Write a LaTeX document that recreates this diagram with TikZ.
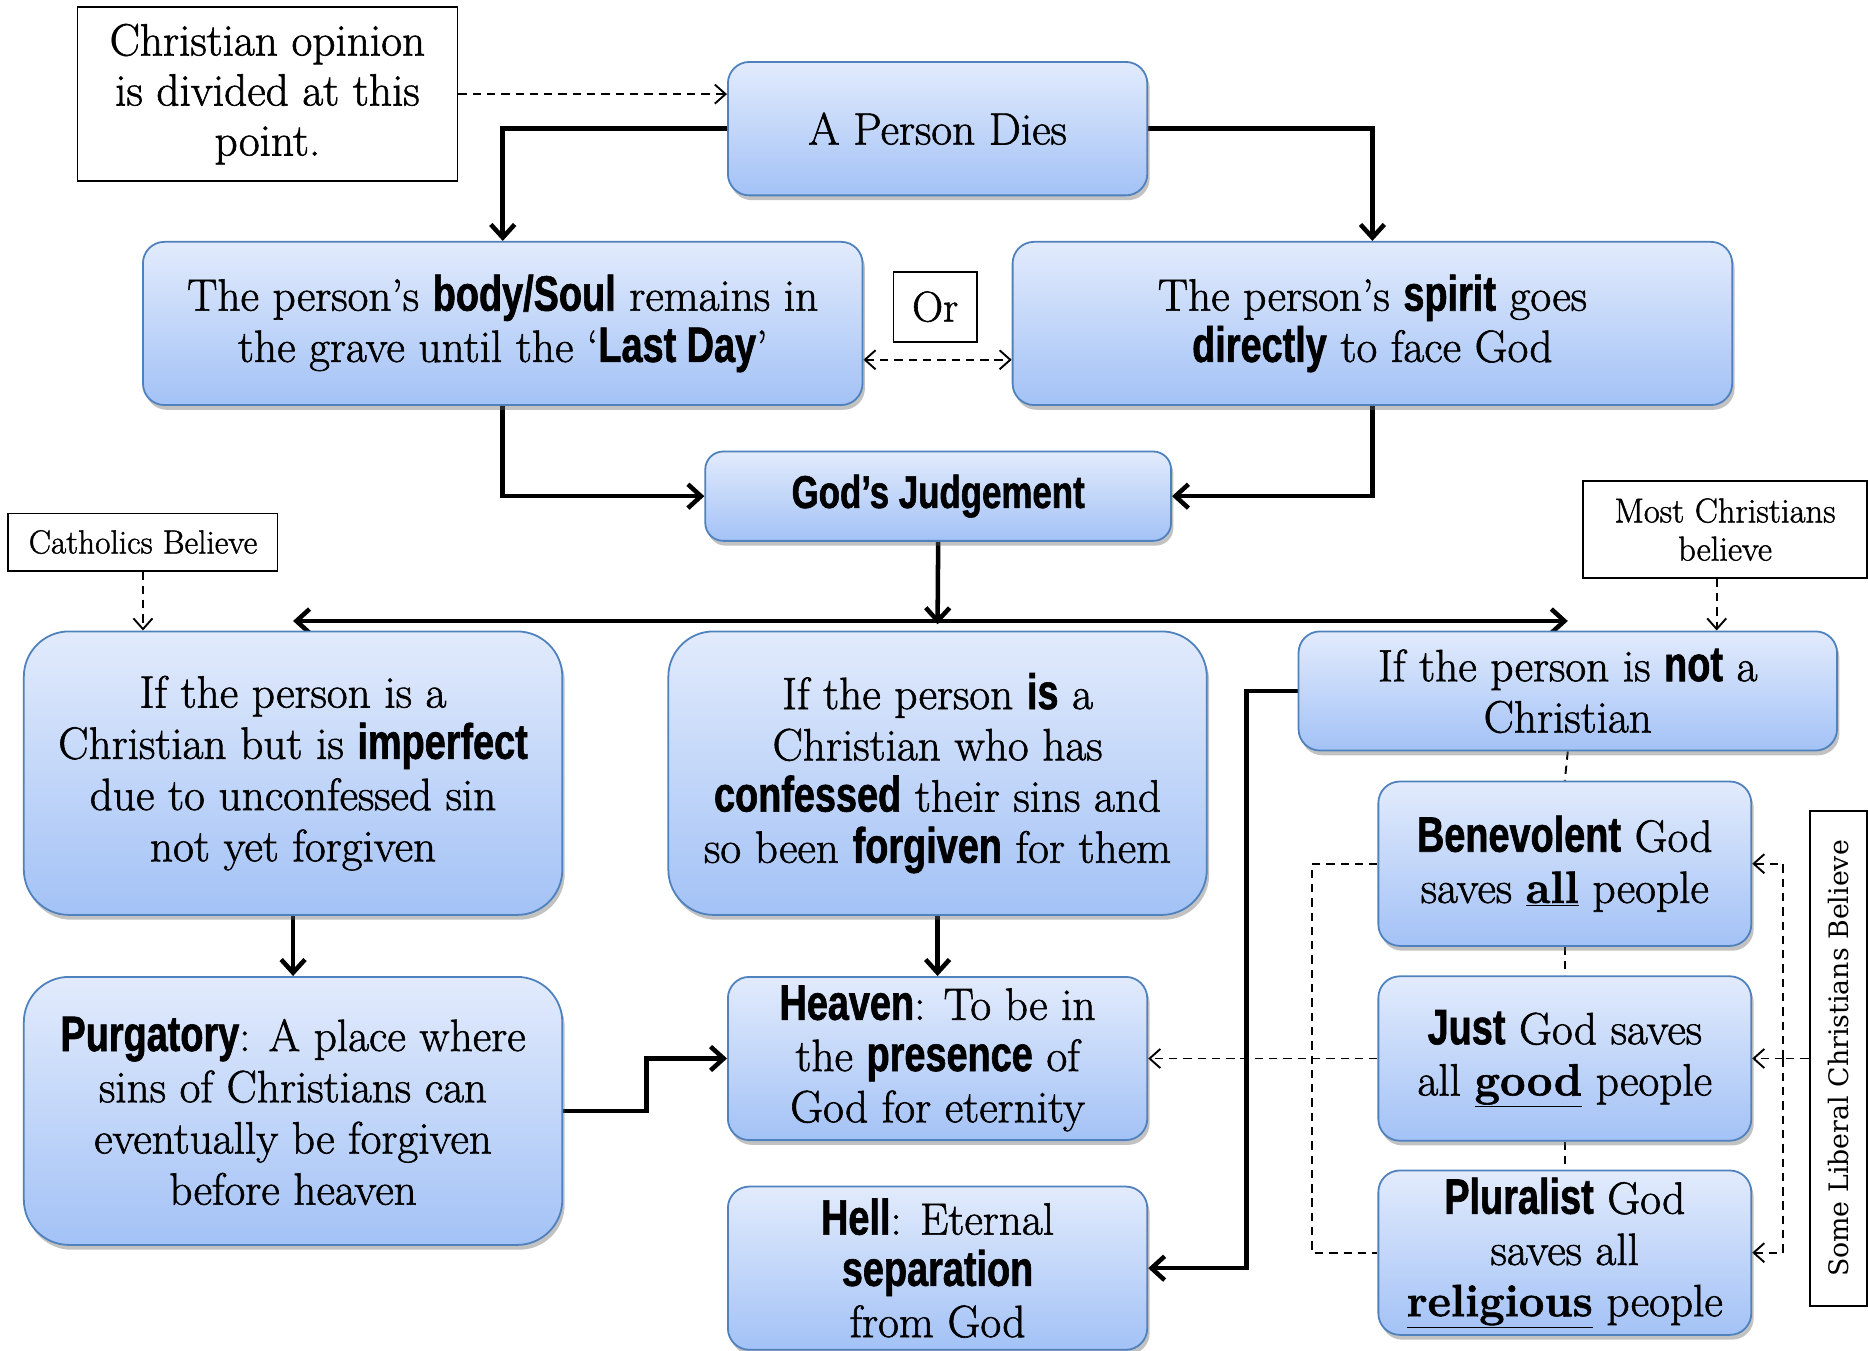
\documentclass[tikz,border=0pt]{standalone}
\usepackage{fontspec}
\setmainfont{Latin Modern Roman}[FakeBold=1.3]
\newfontfamily\imp[Scale=1.1,FakeStretch=0.76,FakeBold=1.2]{Liberation Sans Bold}
\newfontfamily\libfont{DejaVu Serif}
\usetikzlibrary{arrows.meta,shadows,backgrounds}
\newcommand{\hb}[1]{{\imp #1}}
\newcommand{\ub}[1]{\textbf{\underline{#1}}}
\definecolor{boxtop}{HTML}{E2EBFC}
\definecolor{boxbot}{HTML}{A3C2F6}
\definecolor{boxline}{HTML}{4F81BD}
\tikzset{
  bluebox/.style={draw=boxline, line width=1.5pt, top color=boxtop, bottom color=boxbot,
    rounded corners=18pt, inner sep=0pt, align=center,
    font=\fontsize{38}{43}\selectfont,
    drop shadow={shadow xshift=2pt,shadow yshift=-4pt,opacity=0.4,fill=black!60}},
  bigbox/.style={bluebox, rounded corners=38pt},
  notebox/.style={draw=black, line width=1.5pt, fill=white, inner sep=0pt, align=center},
  thickarrow/.style={line width=3.8pt, -{Straight Barb[length=11pt,width=20pt]}},
  dashline/.style={line width=1.6pt, dash pattern=on 7pt off 5pt},
  dasharrow/.style={dashline, -{Straight Barb[length=9pt,width=16pt]}},
}
\begin{document}
\begin{tikzpicture}[x=1pt,y=-1pt]
\useasboundingbox (0,0) rectangle (1568,1134);
% notes
\node[notebox, minimum width=319pt, minimum height=146pt, font=\fontsize{38}{42}\selectfont] (opinion) at (224.5,79) {Christian opinion\\is divided at this\\point.};
\node[notebox, minimum width=70pt, minimum height=59pt, font=\fontsize{36}{40}\selectfont] (or) at (785,257.5) {Or};
\node[notebox, minimum width=226pt, minimum height=48pt, font=\fontsize{28}{32}\selectfont] (cath) at (120,455) {Catholics Believe};
\node[notebox, minimum width=238pt, minimum height=81pt, font=\fontsize{29}{32}\selectfont] (most) at (1448,444.5) {Most Christians\\believe};
\node[notebox, minimum width=48pt, minimum height=415pt, font=\libfont\fontsize{22.5}{26}\selectfont] (liberal) at (1543,888.5) {\rotatebox{90}{Some Liberal Christians Believe}};
% blue boxes
\node[bluebox, minimum width=352pt, minimum height=112pt] (dies) at (787,108) {A Person Dies};
\node[bluebox, minimum width=604pt, minimum height=137pt] (body) at (422,271.5) {The person’s \hb{body/Soul} remains in\\the grave until the ‘\hb{Last Day}’};
\node[bluebox, minimum width=604pt, minimum height=137pt] (spirit) at (1152,271.5) {The person’s \hb{spirit} goes\\\hb{directly} to face God};
\node[bluebox, rounded corners=15pt, minimum width=391pt, minimum height=75pt, font=\fontsize{35}{43}\selectfont] (judge) at (787.5,416.5) {\hb{God’s Judgement}};
\node[bigbox, minimum width=452pt, minimum height=238pt] (imperfect) at (246,649) {If the person is a\\Christian but is \hb{imperfect}\\due to unconfessed sin\\not yet forgiven};
\node[bigbox, minimum width=452pt, minimum height=238pt] (confessed) at (787,649) {If the person \hb{is} a\\Christian who has\\\hb{confessed} their sins and\\so been \hb{forgiven} for them};
\node[bluebox, minimum width=452pt, minimum height=100pt] (notchr) at (1316,580) {If the person is \hb{not} a\\Christian};
\node[bigbox, minimum width=452pt, minimum height=225pt] (purg) at (246,932.5) {\hb{Purgatory}: A place where\\sins of Christians can\\eventually be forgiven\\before heaven};
\node[bluebox, minimum width=352pt, minimum height=137pt] (heaven) at (787,888.5) {\hb{Heaven}: To be in\\the \hb{presence} of\\God for eternity};
\node[bluebox, minimum width=352pt, minimum height=137pt] (hell) at (787,1064.5) {\hb{Hell}: Eternal\\\hb{separation}\\from God};
\node[bluebox, minimum width=313pt, minimum height=138pt] (benev) at (1313.5,725) {\hb{Benevolent} God\\saves \ub{all} people};
\node[bluebox, minimum width=313pt, minimum height=138pt] (just) at (1313.5,888.5) {\hb{Just} God saves\\all \ub{good} people};
\node[bluebox, minimum width=313pt, minimum height=138pt] (plur) at (1313.5,1051.5) {\hb{Pluralist} God\\saves all\\\ub{religious} people};
% coordinates
\coordinate (bar) at (787,524);
\coordinate (barL) at ([yshift=8pt]imperfect.north);
\coordinate (barR) at ([yshift=8pt]notchr.north);
\coordinate (lv) at (1497,888.5);
\begin{scope}[on background layer]
\draw[dasharrow] (opinion.east) -- (opinion.east -| dies.west);
\draw[thickarrow] (dies.west) -| (body.north);
\draw[thickarrow] (dies.east) -| (spirit.north);
\draw[dashline, {Straight Barb[length=9pt,width=16pt]}-{Straight Barb[length=9pt,width=16pt]}] ([yshift=-30.5pt]body.east) -- ([yshift=-30.5pt]spirit.west);
\draw[thickarrow] (body.south) |- (judge.west);
\draw[thickarrow] (spirit.south) |- (judge.east);
\draw[thickarrow] (judge.south) -- (bar);
\draw[line width=3.8pt, {Straight Barb[length=11pt,width=20pt]}-{Straight Barb[length=11pt,width=20pt]}] (barL) -- (barR);
\draw[dasharrow] (cath.south) -- (cath.south |- imperfect.north);
\draw[dasharrow] ([xshift=-7pt]most.south) -- ([xshift=-7pt]most.south |- notchr.north);
\draw[thickarrow] (imperfect.south) -- (purg.north);
\draw[thickarrow] (confessed.south) -- (heaven.north);
\draw[thickarrow] (purg.east) -- ++(70,0) |- (heaven.west);
\draw[thickarrow] (notchr.west) -- ++(-43,0) |- (hell.east);
\draw[dashline] (notchr.south) -- (benev.north);
\draw[dashline] (benev.south) -- (just.north);
\draw[dashline] (just.south) -- (plur.north);
\draw[dashline] (benev.west) -- ++(-55,0) |- (plur.west);
\draw[dasharrow] (just.west) -- (heaven.east);
\draw[dashline] (liberal.west) -- (lv);
\draw[dasharrow] (lv) |- (benev.east);
\draw[dasharrow] (lv) -- (just.east);
\draw[dasharrow] (lv) |- (plur.east);
\end{scope}
\end{tikzpicture}
\end{document}
